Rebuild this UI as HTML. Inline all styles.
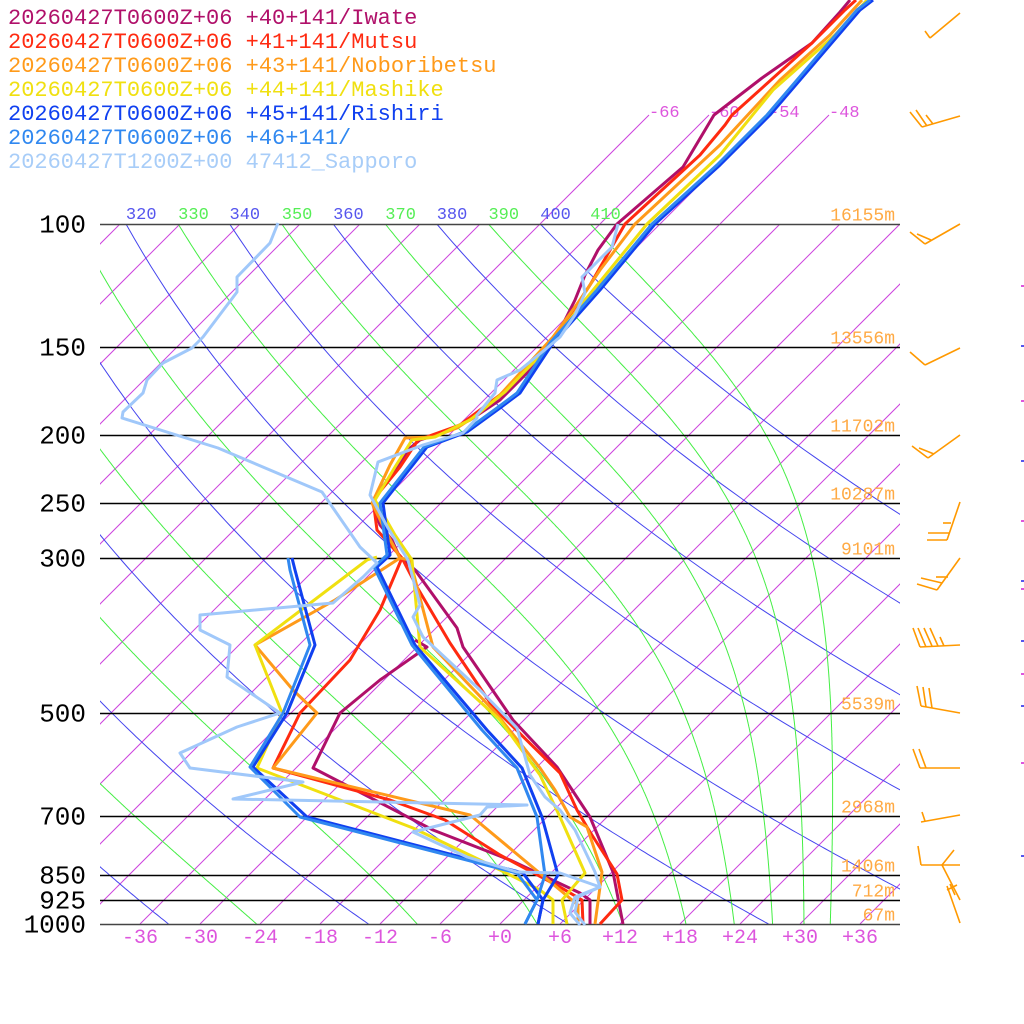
<!DOCTYPE html>
<html><head><meta charset="utf-8"><style>
html,body{margin:0;padding:0;background:#fff;width:1024px;height:1024px;overflow:hidden}
svg{display:block}
text{font-family:"Liberation Mono",monospace}
</style></head><body>
<svg id="s" width="1024" height="1024" viewBox="0 0 1024 1024" xmlns="http://www.w3.org/2000/svg">
<defs>
<clipPath id="pc"><rect x="100" y="224" width="800" height="700"/></clipPath>
<clipPath id="lc"><rect x="100" y="195" width="800" height="30"/></clipPath>
</defs>
<g id="grid" clip-path="url(#pc)"></g>
<g id="ext"></g>
<g id="lab"></g>
<g id="data" fill="none" stroke-linejoin="round" stroke-width="3"></g>
<g id="barbs" stroke="#ff9900" stroke-width="1.6" fill="none"></g>
<g font-size="22">
<text x="8" y="24" fill="#b0106a">20260427T0600Z+06 +40+141/Iwate</text>
<text x="8" y="48" fill="#ff2a10">20260427T0600Z+06 +41+141/Mutsu</text>
<text x="8" y="72" fill="#ff9a1a">20260427T0600Z+06 +43+141/Noboribetsu</text>
<text x="8" y="96" fill="#f0e010">20260427T0600Z+06 +44+141/Mashike</text>
<text x="8" y="120" fill="#1040f0">20260427T0600Z+06 +45+141/Rishiri</text>
<text x="8" y="144" fill="#3088f0">20260427T0600Z+06 +46+141/</text>
<text x="8" y="168" fill="#a8cdf8">20260427T1200Z+00 47412_Sapporo</text>
</g>
</svg>
<script>
var NS="http://www.w3.org/2000/svg";
function el(par,tag,at,txt){var e=document.createElementNS(NS,tag);for(var k in at)e.setAttribute(k,at[k]);if(txt!=null)e.textContent=txt;document.getElementById(par).appendChild(e);return e;}
function Y(p){return 924-304*Math.log(1000/p);}
function X(T,y){return 500+10*T+(924-y);}
for(var T=-150;T<=40;T+=6){var x0=500+10*T;el('grid','line',{x1:x0,y1:924,x2:x0+700,y2:224,stroke:'#cc44dd','stroke-width':1});}
[-66,-60,-54,-48].forEach(function(T){var x0=500+10*T;el('ext','line',{x1:x0+700,y1:224,x2:x0+809,y2:115,stroke:'#cc44dd','stroke-width':1});
 el('lab','text',{x:x0+809,y:117,fill:'#dd55dd','font-size':17},''+T);});
// dry adiabats (blue, even tens)
for(var th=200;th<=400;th+=20){var pts=[];for(var p=1000;p>=95;p-=5){var y=Y(p);var Tc=th*Math.pow(p/1000,0.2857)-273.15;pts.push(X(Tc,y).toFixed(1)+','+y.toFixed(1));}
 el('grid','polyline',{points:pts.join(' '),fill:'none',stroke:'#4444ee','stroke-width':1});
 var lx=X(th/1.9307-273.15,224);
 if(lx>85&&lx<620){el('lab','text',{x:lx,y:219,fill:'#5555ee','font-size':17,'clip-path':'url(#lc)'},''+th);}
}
// pseudo-adiabats (green, odd tens), integrated downward from aloft
function es(Tc){return 6.112*Math.exp(17.67*Tc/(Tc+243.5));}
function dTdp(T,p){var Tc=T-273.15;var e=es(Tc);if(e>p*0.5)e=p*0.5;var rs=0.622*e/(p-e);return (287*T+2.5e6*rs)/(p*(1004+2.5e6*2.5e6*rs*0.622/(287*T*T)));}
for(var th=210;th<=410;th+=20){var p=20,T=th*Math.pow(p/1000,0.2857),pts=[],lx=null;
 while(p<=1000.01){var y=Y(p);var x=X(T-273.15,y);if(p>=90)pts.push(x.toFixed(1)+','+y.toFixed(1));if(lx===null&&p>=100)lx=x;
  var dp=1;var k1=dTdp(T,p);var k2=dTdp(T+k1*dp/2,p+dp/2);T+=k2*dp;p+=dp;}
 el('grid','polyline',{points:pts.join(' '),fill:'none',stroke:'#44ee44','stroke-width':1});
 if(lx>85&&lx<640){el('lab','text',{x:lx,y:219,fill:'#55ee55','font-size':17,'clip-path':'url(#lc)'},''+th);}
}
[[100,'16155m'],[150,'13556m'],[200,'11702m'],[250,'10287m'],[300,'9101m'],[500,'5539m'],[700,'2968m'],[850,'1406m'],[925,'712m'],[1000,'67m']].forEach(function(a){
 var y=Math.round(Y(a[0]))+0.5;el('lab','line',{x1:100,y1:y,x2:900,y2:y,stroke:(a[0]==100||a[0]==1000)?'#444':'#000','stroke-width':1.5});
 el('lab','text',{x:86,y:y+8,'text-anchor':'end','font-size':26,fill:'#000'},''+a[0]);
 el('lab','text',{x:895,y:y-4,'text-anchor':'end','font-size':18,fill:'#ffaa44'},a[1]);});
for(var T=-36;T<=36;T+=6){el('lab','text',{x:500+10*T,y:943,'text-anchor':'middle','font-size':20,fill:'#dd55dd'},(T>=0?'+':'-')+Math.abs(T));}
var S=[
['#b0106a',
 [[623,924],[613,872],[590,817],[557,767],[513,720],[463,647],[457,628],[415,570],[400,558],[392,540],[380,525],[373,505],[375,497],[395,470],[410,448],[420,440],[445,432],[470,420],[500,400],[540,360],[565,320],[575,300],[585,275],[598,250],[617,224],[683,167],[714,115],[762,78],[812,43],[840,12],[850,0]],
 [[590,924],[590,900],[580,893],[510,860],[433,830],[313,768],[340,713],[380,680],[427,647],[415,640]]],
['#ff2a10',
 [[600,924],[622,900],[617,874],[590,832],[577,810],[560,773],[493,707],[450,643],[417,587],[402,558],[377,530],[373,500],[400,467],[418,440],[460,425],[500,395],[545,350],[570,315],[590,285],[625,224],[700,155],[725,125],[732,115],[812,43],[845,10],[856,0]],
 [[583,924],[582,900],[560,887],[500,855],[445,820],[390,800],[273,768],[300,713],[350,660],[380,610],[402,558]]],
['#ff9a1a',
 [[595,924],[602,872],[587,827],[570,817],[555,790],[540,768],[495,712],[433,647],[410,560],[400,558],[385,530],[372,503],[390,465],[405,438],[433,437],[457,428],[477,415],[500,395],[553,337],[580,300],[600,270],[635,224],[720,145],[780,80],[830,35],[862,0]],
 [[578,924],[578,905],[560,890],[470,815],[273,768],[317,713],[293,690],[255,645],[335,600],[400,558]]],
['#f0e010',
 [[567,924],[562,900],[585,873],[560,817],[540,775],[500,720],[420,647],[412,560],[395,535],[375,500],[395,467],[412,440],[435,437],[470,420],[505,392],[550,345],[585,300],[647,224],[720,155],[773,90],[835,35],[867,0]],
 [[553,924],[553,900],[540,890],[480,860],[413,828],[257,768],[282,713],[255,645],[367,560],[377,557]]],
['#1040f0',
 [[538,924],[543,900],[558,875],[542,817],[522,768],[487,730],[415,645],[377,567],[390,555],[383,503],[427,447],[467,432],[500,408],[520,393],[553,343],[600,290],[655,224],[720,165],[770,115],[860,10],[873,0]],
 [[538,924],[543,900],[523,873],[307,817],[253,767],[287,713],[315,645],[295,570],[292,558]]],
['#3088f0',
 [[525,924],[537,900],[545,875],[537,817],[517,768],[482,730],[412,645],[374,567],[387,555],[380,503],[424,447],[464,432],[497,408],[517,393],[550,343],[597,290],[652,224],[717,165],[767,115],[857,10],[870,0]],
 [[525,924],[537,900],[517,873],[300,817],[250,767],[283,713],[310,645],[290,570],[288,558]]],
['#a0c8fa',
 [[585,925],[575,912],[578,897],[600,887],[595,872],[575,830],[560,810],[545,797],[530,775],[517,728],[480,690],[423,637],[413,617],[420,605],[408,560],[388,528],[370,495],[378,462],[423,445],[463,433],[477,418],[477,415],[495,393],[497,380],[520,370],[547,348],[560,337],[575,315],[585,293],[582,277],[612,247],[618,224]],
 [[580,925],[570,913],[575,897],[600,887],[560,873],[517,872],[467,857],[413,832],[480,815],[487,807],[527,805],[233,799],[303,782],[190,768],[180,753],[237,727],[280,713],[227,677],[230,645],[200,630],[200,615],[333,603],[363,577],[377,563],[360,547],[322,492],[218,448],[122,418],[123,412],[143,393],[147,380],[163,363],[192,348],[203,337],[237,292],[237,277],[270,243],[278,223]]]
];
S.forEach(function(s){[s[1],s[2]].forEach(function(a){el('data','polyline',{points:a.map(function(q){return q.join(',')}).join(' '),stroke:s[0]});});});
var B=[
[[960,13],[930,38],[[930,38,925,31]]],
[[960,116],[922,127],[[922,127,910,112],[927,126,916,110],[933,124,926,115]]],
[[960,224],[925,244],[[925,244,910,232],[931,240,917,234]]],
[[960,348],[925,365],[[925,365,910,352]]],
[[960,435],[928,458],[[928,458,912,446],[934,454,919,448]]],
[[960,502],[947,540],[[947,540,927,540],[949,533,928,533],[951,523,943,523]]],
[[960,558],[937,590],[[937,590,917,584],[942,583,921,578],[948,577,936,577]]],
[[960,645],[920,647],[[920,647,913,628],[926,647,918,628],[932,646,924,628],[938,646,930,628],[944,646,940,637]]],
[[960,713],[921,706],[[921,706,917,686],[926,707,923,687],[932,708,929,688]]],
[[960,768],[920,768],[[920,768,913,749],[926,768,919,749]]],
[[960,815],[921,822],[[925,821,922,812]]],
[[960,865],[921,865],[[921,865,918,846]]],
[[960,900],[942,865],[[942,865,954,850]]],
[[960,923],[947,886],[[947,890,957,885],[950,884,955,895]]]
];
B.forEach(function(b){el('barbs','line',{x1:b[0][0],y1:b[0][1],x2:b[1][0],y2:b[1][1]});b[2].forEach(function(l){el('barbs','line',{x1:l[0],y1:l[1],x2:l[2],y2:l[3]});});});
[285,345,400,460,520,580,588,640,673,705,762,855].forEach(function(y,i){el('lab','rect',{x:1021,y:y,width:3,height:2,fill:i%2?'#5555ee':'#dd55dd'});});
</script>
</body></html>
